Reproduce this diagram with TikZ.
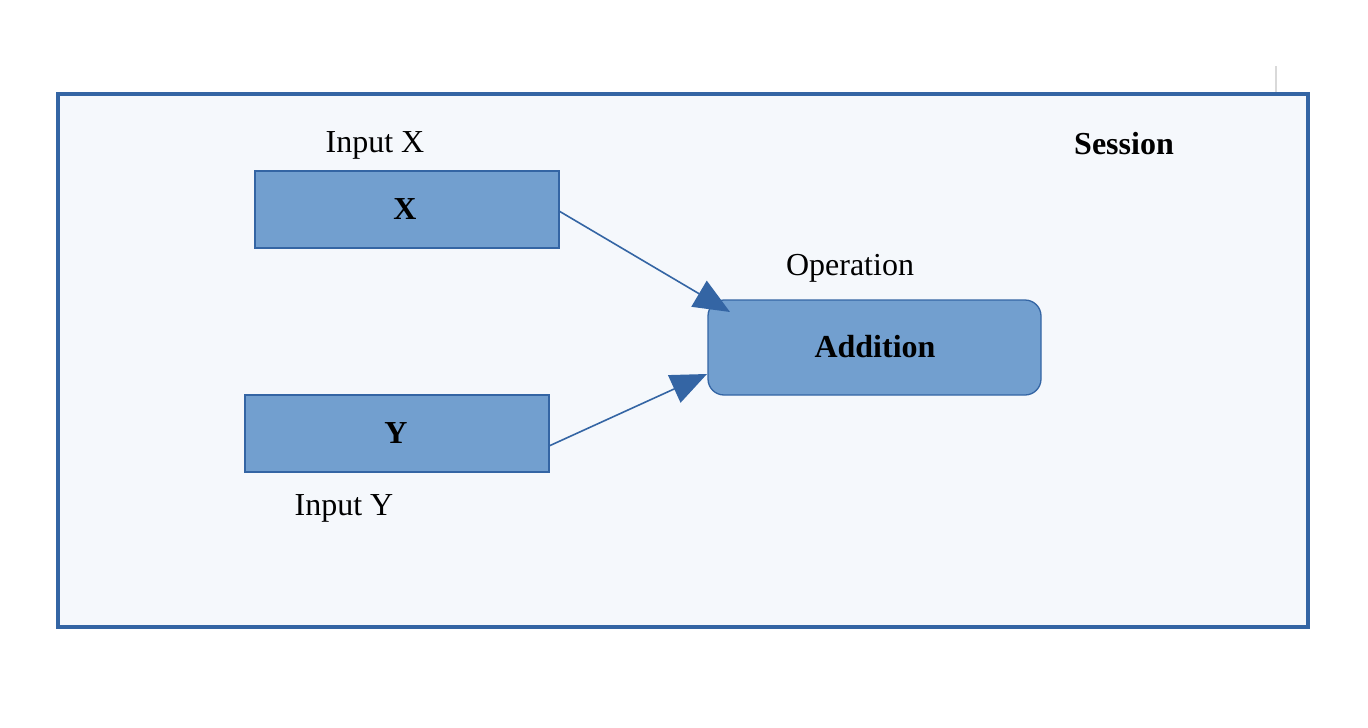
\documentclass[tikz,border=0pt]{standalone}
\usepackage{fontspec}
\setmainfont{Liberation Serif}
\usetikzlibrary{arrows.meta}
\definecolor{frameblue}{HTML}{3465A4}
\definecolor{boxfill}{HTML}{729FCF}
\definecolor{bgfill}{HTML}{F5F8FC}
\begin{document}
\begin{tikzpicture}[x=1pt,y=-1pt,
  lbl/.style={font=\fontsize{32}{36}\selectfont, inner sep=0pt, anchor=base},
  blbl/.style={font=\fontsize{32}{36}\selectfont\bfseries, inner sep=0pt, anchor=base},
  vbox/.style={draw=frameblue, fill=boxfill, line width=1.3pt, inner sep=0pt},
  conn/.style={draw=frameblue, line width=1.6pt, -{Triangle[length=36pt,width=30pt]}}]
\useasboundingbox (0,0) rectangle (1368,728);
\draw[draw=frameblue, fill=bgfill, line width=4pt] (58,94) rectangle (1308,627);
\draw[black!15, line width=1.5pt] (1276,66) -- (1276,92);
\node[vbox, minimum width=304pt, minimum height=77pt] (x) at (407,209.5) {};
\node[blbl] (xt) at (405,219) {X};
\node[vbox, minimum width=304pt, minimum height=77pt] (y) at (397,433.5) {};
\node[blbl] (yt) at (396,443) {Y};
\node[vbox, rounded corners=16pt, minimum width=333pt, minimum height=95pt] (add) at (874.5,347.5) {};
\node[blbl] (addt) at (875,357) {Addition};
\node[lbl] (ix) at (375,152) {Input X};
\node[lbl] (iy) at (344,515) {Input Y};
\node[lbl] (op) at (850,275) {Operation};
\node[blbl] (sess) at (1124,154) {Session};
\coordinate (xs) at (559,211);
\coordinate (xe) at (730,312);
\coordinate (ys) at (549,446);
\coordinate (ye) at (707,374);
\draw[conn] (xs) -- (xe);
\draw[conn] (ys) -- (ye);
\end{tikzpicture}
\end{document}
